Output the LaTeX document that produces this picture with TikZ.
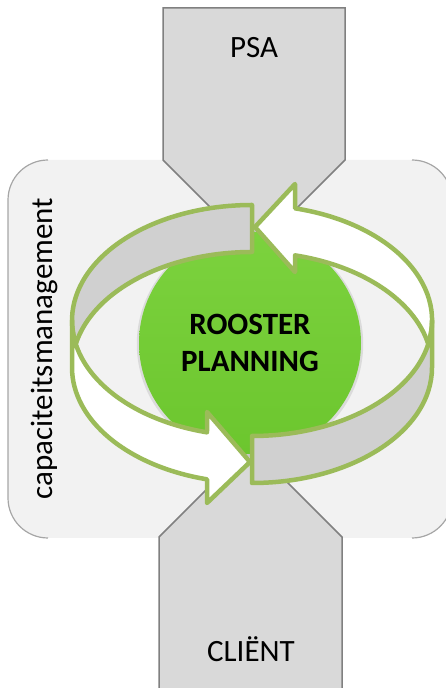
\documentclass[tikz,border=0pt]{standalone}
\usepackage{fontspec}
\setmainfont{Carlito}
\usetikzlibrary{shadows}
\definecolor{ringgreen}{RGB}{155,187,89}
\definecolor{ballgreen}{RGB}{108,198,46}
\definecolor{balltop}{RGB}{124,210,62}
\definecolor{tabgray}{RGB}{217,217,217}
\definecolor{tabline}{RGB}{128,128,128}
\definecolor{backgray}{RGB}{242,242,242}
\definecolor{bandgray}{RGB}{208,208,208}
\begin{document}
\begin{tikzpicture}[x=1pt,y=1pt,
	tab/.style={fill=tabgray,draw=tabline,line width=1.5pt},
	band/.style={draw=ringgreen,line width=4.5pt,line join=round},
	lbl/.style={font=\fontsize{31}{36}\selectfont,anchor=base},
	er/.style={x radius=180,y radius=115.5}]
	\useasboundingbox (0,0) rectangle (446,688);
	\clip (0,0) rectangle (446,688);
	% capaciteitsmanagement
	\fill[backgray,rounded corners=40pt] (8,150) rectangle (452,528);
	\draw[tabline!70,line width=1.2pt] (48,528) arc[start angle=90,end angle=180,radius=40] -- (8,190) arc[start angle=180,end angle=270,radius=40];
	\draw[tabline!70,line width=1.2pt] (412,528) arc[start angle=90,end angle=0,radius=40];
	\draw[tabline!70,line width=1.2pt] (412,150) arc[start angle=270,end angle=360,radius=40];
	\node[lbl,rotate=90] (cap) at (52,339.5) {capaciteitsmanagement};
	% PSA en client
	\draw[tab] (163,680)--(345,680)--(345,528)--(254,437)--(163,528)--cycle;
	\draw[tab] (159,-5)--(159,151)--(250.5,242.5)--(342,151)--(342,-5)--cycle;
	\node[lbl] (psa) at (254,630) {PSA};
	\node[lbl] (client) at (251,26) {CLIËNT};
	% rooster planning
	\node[circle,minimum size=222pt,inner sep=0pt,top color=balltop,bottom color=ballgreen,
		drop shadow={shadow xshift=0pt,shadow yshift=-1pt,opacity=.2,shadow scale=1.02},
		align=center,font=\fontsize{31}{37}\selectfont\bfseries] (core) at (250,345) {ROOSTER\\PLANNING};
	% ring
	\draw[band,fill=bandgray] (252,483) arc[er,start angle=90,end angle=191.74] arc[er,start angle=168.26,end angle=90]--cycle;
	\draw[band,fill=white] (428.3,344) arc[er,start angle=-11.74,end angle=76.18]--(295,504)--(255,461)--(295,416)--(295,432.65) arc[er,start angle=76.18,end angle=11.74]--cycle;
	\draw[band,fill=white] (72,320.5)--(72,367.5) arc[er,start angle=180,end angle=255.52]--(207,276)--(250,226)--(207,185)--(207,208.67) arc[er,start angle=255.52,end angle=180]--cycle;
	\draw[band,fill=bandgray] (252,252) arc[er,start angle=270,end angle=360]--(432,320.5) arc[er,start angle=360,end angle=270]--cycle;
\end{tikzpicture}
\end{document}
